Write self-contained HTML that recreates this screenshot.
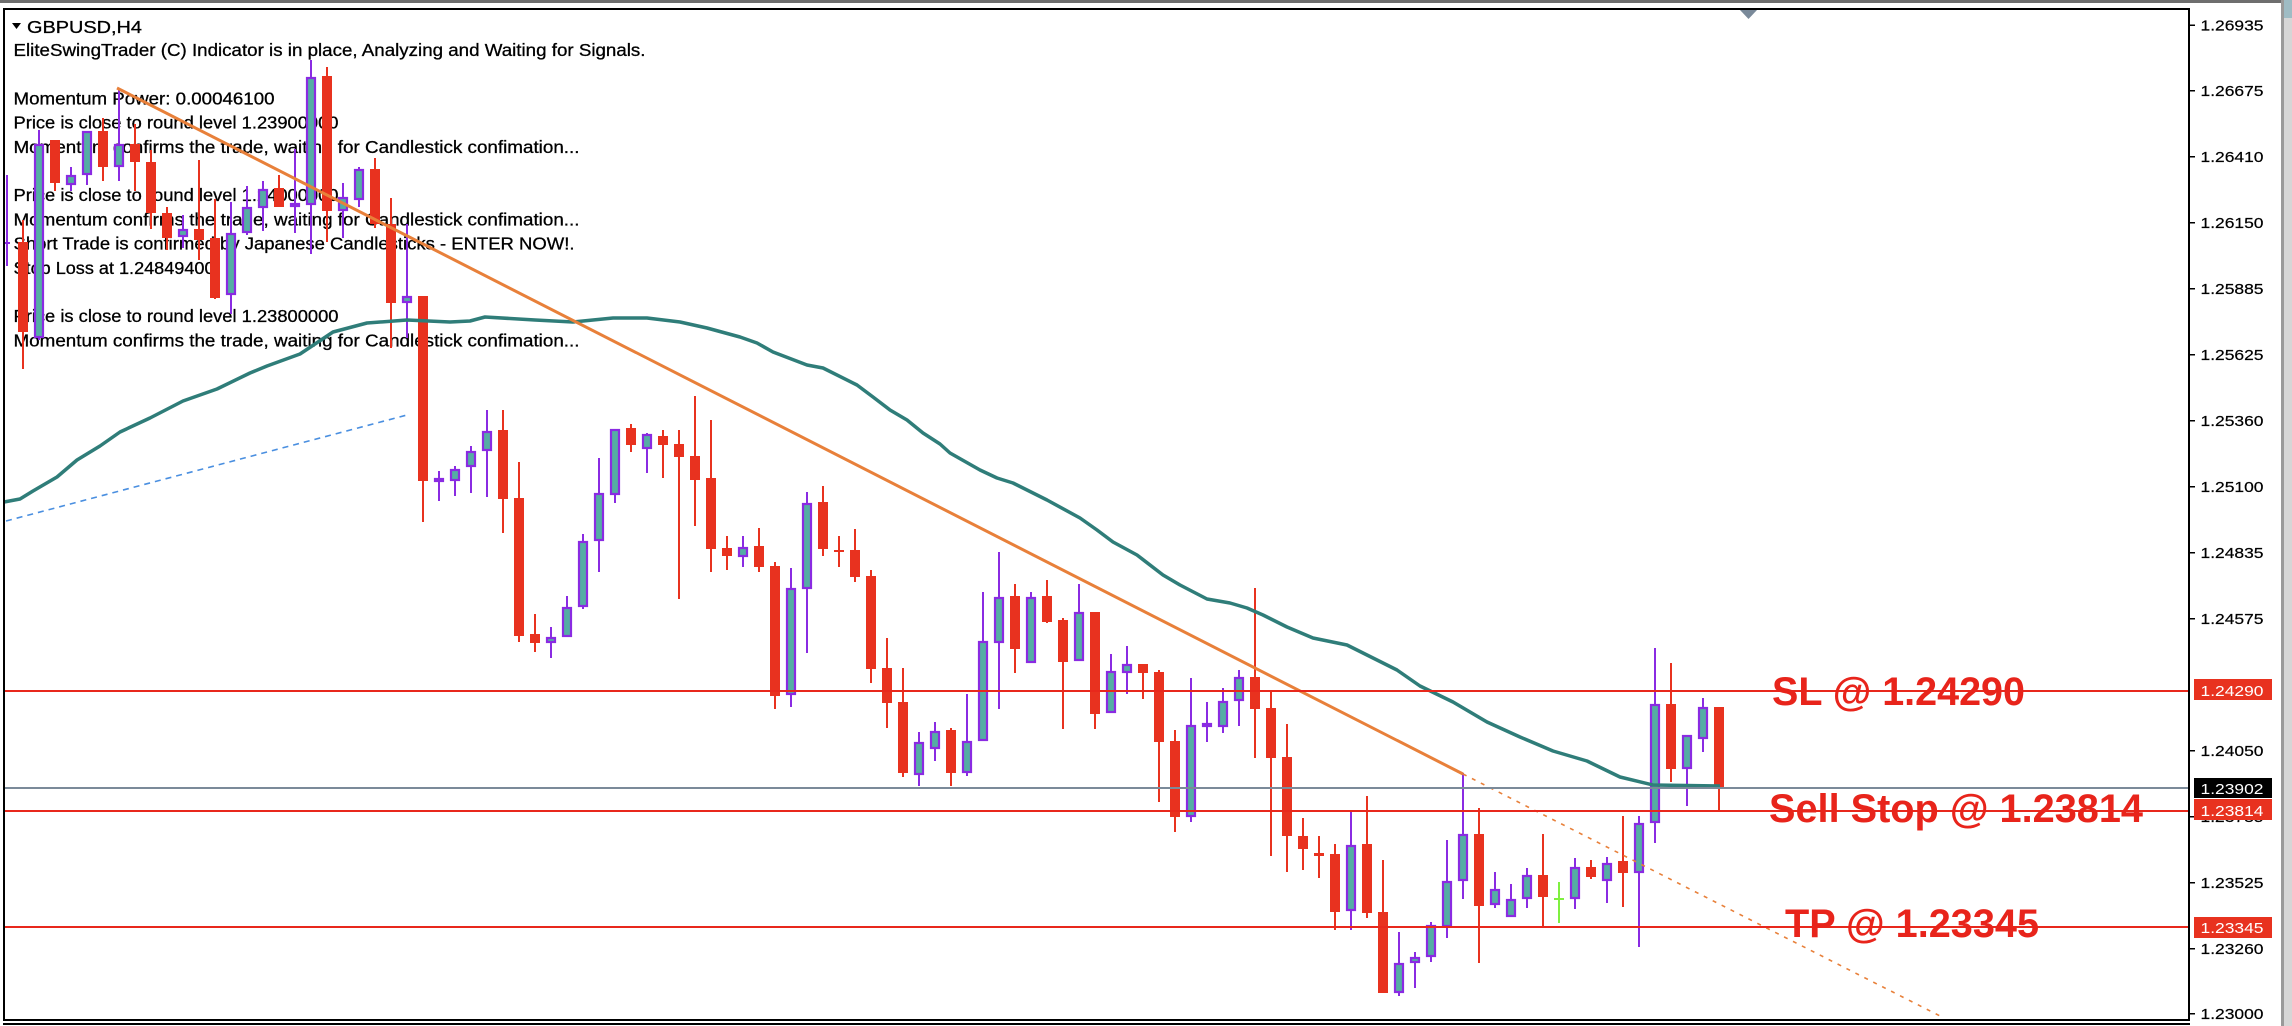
<!DOCTYPE html>
<html><head><meta charset="utf-8"><style>
html,body{margin:0;padding:0;background:#fff;}
svg{display:block;}
.hd{font-family:"Liberation Sans","DejaVu Sans",sans-serif;font-size:17.5px;fill:#000;stroke:#000;stroke-width:0.3px;}
.ax{font-family:"Liberation Sans","DejaVu Sans",sans-serif;font-size:15px;fill:#000;stroke:#000;stroke-width:0.2px;}
.axw{font-family:"Liberation Sans","DejaVu Sans",sans-serif;font-size:15px;fill:#fff;}
.big{font-family:"Liberation Sans",sans-serif;font-size:40px;font-weight:bold;fill:#e8241b;}
</style></head><body>
<svg width="2292" height="1026" viewBox="0 0 2292 1026" xmlns="http://www.w3.org/2000/svg">
<rect x="0" y="0" width="2292" height="1026" fill="#fff"/>
<rect x="0" y="0" width="2281" height="3" fill="#6e6e6e"/>
<rect x="2281" y="0" width="3" height="1026" fill="#9a9a9a"/>
<rect x="2284" y="0" width="8" height="1026" fill="#d6d6d6"/>
<rect x="2284" y="0" width="8" height="18" fill="#9fbcc4"/>

<!-- header text -->
<polygon points="12,23 21,23 16.5,29" fill="#000"/>
<text class="hd" x="27" y="33" textLength="115" lengthAdjust="spacingAndGlyphs">GBPUSD,H4</text>
<text class="hd" x="13.5" y="56" textLength="632" lengthAdjust="spacingAndGlyphs">EliteSwingTrader (C) Indicator is in place, Analyzing and Waiting for Signals.</text>
<text class="hd" x="13.5" y="104.4" textLength="261" lengthAdjust="spacingAndGlyphs">Momentum Power: 0.00046100</text>
<text class="hd" x="13.5" y="128.6" textLength="325" lengthAdjust="spacingAndGlyphs">Price is close to round level 1.23900000</text>
<text class="hd" x="13.5" y="152.8" textLength="566" lengthAdjust="spacingAndGlyphs">Momentum confirms the trade, waiting for Candlestick confimation...</text>
<text class="hd" x="13.5" y="201.2" textLength="325" lengthAdjust="spacingAndGlyphs">Price is close to round level 1.24000000</text>
<text class="hd" x="13.5" y="225.4" textLength="566" lengthAdjust="spacingAndGlyphs">Momentum confirms the trade, waiting for Candlestick confimation...</text>
<text class="hd" x="13.5" y="249.6" textLength="561" lengthAdjust="spacingAndGlyphs">Short Trade is confirmed by Japanese Candlesticks - ENTER NOW!.</text>
<text class="hd" x="13.5" y="273.8" textLength="201" lengthAdjust="spacingAndGlyphs">Stop Loss at 1.24849400</text>
<text class="hd" x="13.5" y="322.2" textLength="325" lengthAdjust="spacingAndGlyphs">Price is close to round level 1.23800000</text>
<text class="hd" x="13.5" y="346.4" textLength="566" lengthAdjust="spacingAndGlyphs">Momentum confirms the trade, waiting for Candlestick confimation...</text>

<!-- blue dashed -->
<line x1="6" y1="521" x2="407" y2="415" stroke="#4a8fe0" stroke-width="1.6" stroke-dasharray="6 5"/>

<!-- bear candles -->
<g fill="#e8321f">
<rect x="22" y="220" width="2" height="149"/><rect x="18" y="242" width="10" height="90"/>
<rect x="54" y="140" width="2" height="51"/><rect x="50" y="140" width="10" height="43"/>
<rect x="102" y="118" width="2" height="63"/><rect x="98" y="131" width="10" height="36"/>
<rect x="134" y="124" width="2" height="67"/><rect x="130" y="144" width="10" height="18"/>
<rect x="150" y="150" width="2" height="79"/><rect x="146" y="162" width="10" height="51"/>
<rect x="166" y="207" width="2" height="43"/><rect x="162" y="213" width="10" height="25"/>
<rect x="198" y="160" width="2" height="100"/><rect x="194" y="229" width="10" height="11"/>
<rect x="214" y="199" width="2" height="100"/><rect x="210" y="238" width="10" height="60"/>
<rect x="278" y="175" width="2" height="32"/><rect x="274" y="188" width="10" height="19"/>
<rect x="326" y="67" width="2" height="175"/><rect x="322" y="76" width="10" height="135"/>
<rect x="374" y="158" width="2" height="70"/><rect x="370" y="169" width="10" height="55"/>
<rect x="390" y="198" width="2" height="150"/><rect x="386" y="224" width="10" height="79"/>
<rect x="422" y="296" width="2" height="226"/><rect x="418" y="296" width="10" height="185"/>
<rect x="502" y="410" width="2" height="123"/><rect x="498" y="430" width="10" height="69"/>
<rect x="518" y="462" width="2" height="180"/><rect x="514" y="498" width="10" height="138"/>
<rect x="534" y="614" width="2" height="38"/><rect x="530" y="634" width="10" height="9"/>
<rect x="630" y="424" width="2" height="28"/><rect x="626" y="428" width="10" height="17"/>
<rect x="662" y="430" width="2" height="48"/><rect x="658" y="436" width="10" height="9"/>
<rect x="678" y="430" width="2" height="169"/><rect x="674" y="444" width="10" height="13"/>
<rect x="694" y="396" width="2" height="130"/><rect x="690" y="456" width="10" height="24"/>
<rect x="710" y="420" width="2" height="152"/><rect x="706" y="478" width="10" height="71"/>
<rect x="726" y="536" width="2" height="34"/><rect x="722" y="548" width="10" height="8"/>
<rect x="758" y="528" width="2" height="44"/><rect x="754" y="546" width="10" height="21"/>
<rect x="774" y="562" width="2" height="147"/><rect x="770" y="566" width="10" height="130"/>
<rect x="822" y="486" width="2" height="70"/><rect x="818" y="502" width="10" height="47"/>
<rect x="838" y="536" width="2" height="31"/><rect x="834" y="550" width="10" height="2"/>
<rect x="854" y="529" width="2" height="53"/><rect x="850" y="550" width="10" height="27"/>
<rect x="870" y="570" width="2" height="113"/><rect x="866" y="576" width="10" height="93"/>
<rect x="886" y="638" width="2" height="90"/><rect x="882" y="668" width="10" height="35"/>
<rect x="902" y="668" width="2" height="109"/><rect x="898" y="702" width="10" height="71"/>
<rect x="950" y="728" width="2" height="58"/><rect x="946" y="730" width="10" height="43"/>
<rect x="1014" y="584" width="2" height="89"/><rect x="1010" y="596" width="10" height="53"/>
<rect x="1046" y="580" width="2" height="43"/><rect x="1042" y="596" width="10" height="26"/>
<rect x="1062" y="618" width="2" height="111"/><rect x="1058" y="620" width="10" height="42"/>
<rect x="1094" y="612" width="2" height="117"/><rect x="1090" y="612" width="10" height="102"/>
<rect x="1142" y="664" width="2" height="35"/><rect x="1138" y="664" width="10" height="9"/>
<rect x="1158" y="670" width="2" height="132"/><rect x="1154" y="672" width="10" height="70"/>
<rect x="1174" y="730" width="2" height="102"/><rect x="1170" y="741" width="10" height="76"/>
<rect x="1254" y="588" width="2" height="170"/><rect x="1250" y="677" width="10" height="32"/>
<rect x="1270" y="692" width="2" height="164"/><rect x="1266" y="708" width="10" height="50"/>
<rect x="1286" y="724" width="2" height="148"/><rect x="1282" y="757" width="10" height="79"/>
<rect x="1302" y="818" width="2" height="52"/><rect x="1298" y="836" width="10" height="13"/>
<rect x="1318" y="836" width="2" height="42"/><rect x="1314" y="853" width="10" height="3"/>
<rect x="1334" y="844" width="2" height="86"/><rect x="1330" y="854" width="10" height="58"/>
<rect x="1366" y="796" width="2" height="122"/><rect x="1362" y="844" width="10" height="69"/>
<rect x="1382" y="860" width="2" height="133"/><rect x="1378" y="912" width="10" height="81"/>
<rect x="1478" y="808" width="2" height="155"/><rect x="1474" y="834" width="10" height="72"/>
<rect x="1542" y="834" width="2" height="94"/><rect x="1538" y="875" width="10" height="22"/>
<rect x="1590" y="860" width="2" height="19"/><rect x="1586" y="867" width="10" height="10"/>
<rect x="1622" y="816" width="2" height="91"/><rect x="1618" y="861" width="10" height="12"/>
<rect x="1670" y="663" width="2" height="119"/><rect x="1666" y="704" width="10" height="65"/>
<rect x="1718" y="707" width="2" height="103"/><rect x="1714" y="707" width="10" height="81"/>
</g>

<!-- bull wicks -->
<g fill="#8a2be2">
<rect x="6" y="175" width="2" height="91"/><rect x="5" y="242" width="5" height="2"/>
<rect x="38" y="130" width="2" height="210"/>
<rect x="70" y="167" width="2" height="24"/>
<rect x="86" y="131" width="2" height="54"/>
<rect x="118" y="88" width="2" height="93"/>
<rect x="182" y="215" width="2" height="33"/>
<rect x="230" y="202" width="2" height="112"/>
<rect x="246" y="186" width="2" height="49"/>
<rect x="262" y="181" width="2" height="50"/>
<rect x="294" y="149" width="2" height="84"/>
<rect x="310" y="60" width="2" height="194"/>
<rect x="342" y="183" width="2" height="55"/>
<rect x="358" y="167" width="2" height="40"/>
<rect x="406" y="224" width="2" height="114"/>
<rect x="438" y="471" width="2" height="30"/>
<rect x="454" y="466" width="2" height="30"/>
<rect x="470" y="446" width="2" height="47"/>
<rect x="486" y="410" width="2" height="87"/>
<rect x="550" y="627" width="2" height="31"/>
<rect x="566" y="596" width="2" height="41"/>
<rect x="582" y="534" width="2" height="75"/>
<rect x="598" y="458" width="2" height="114"/>
<rect x="614" y="429" width="2" height="74"/>
<rect x="646" y="433" width="2" height="40"/>
<rect x="742" y="536" width="2" height="31"/>
<rect x="790" y="568" width="2" height="139"/>
<rect x="806" y="492" width="2" height="161"/>
<rect x="918" y="732" width="2" height="54"/>
<rect x="934" y="722" width="2" height="39"/>
<rect x="966" y="694" width="2" height="82"/>
<rect x="982" y="592" width="2" height="149"/>
<rect x="998" y="552" width="2" height="157"/>
<rect x="1030" y="592" width="2" height="71"/>
<rect x="1078" y="584" width="2" height="77"/>
<rect x="1110" y="654" width="2" height="59"/>
<rect x="1126" y="646" width="2" height="48"/>
<rect x="1190" y="678" width="2" height="144"/>
<rect x="1206" y="702" width="2" height="40"/>
<rect x="1222" y="688" width="2" height="45"/>
<rect x="1238" y="670" width="2" height="56"/>
<rect x="1350" y="812" width="2" height="118"/>
<rect x="1398" y="932" width="2" height="64"/>
<rect x="1414" y="952" width="2" height="36"/>
<rect x="1430" y="922" width="2" height="40"/>
<rect x="1446" y="840" width="2" height="98"/>
<rect x="1462" y="773" width="2" height="126"/>
<rect x="1494" y="872" width="2" height="36"/>
<rect x="1510" y="884" width="2" height="33"/>
<rect x="1526" y="868" width="2" height="40"/>
<rect x="1574" y="858" width="2" height="51"/>
<rect x="1606" y="857" width="2" height="46"/>
<rect x="1638" y="816" width="2" height="131"/>
<rect x="1654" y="648" width="2" height="195"/>
<rect x="1686" y="735" width="2" height="71"/>
<rect x="1702" y="698" width="2" height="54"/>
</g>
<!-- bull bodies -->
<g fill="#55ada4" stroke="#8a2be2" stroke-width="2.2">
<rect x="35" y="145" width="8" height="192"/>
<rect x="67" y="176" width="8" height="8"/>
<rect x="83" y="132" width="8" height="42"/>
<rect x="115" y="145" width="8" height="21"/>
<rect x="179" y="230" width="8" height="6"/>
<rect x="227" y="234" width="8" height="60"/>
<rect x="243" y="208" width="8" height="24"/>
<rect x="259" y="190" width="8" height="17"/>
<rect x="291" y="204" width="8" height="2"/>
<rect x="307" y="78" width="8" height="126"/>
<rect x="339" y="198" width="8" height="12"/>
<rect x="355" y="170" width="8" height="29"/>
<rect x="403" y="297" width="8" height="5"/>
<rect x="435" y="479" width="8" height="2"/>
<rect x="451" y="470" width="8" height="10"/>
<rect x="467" y="452" width="8" height="14"/>
<rect x="483" y="432" width="8" height="18"/>
<rect x="547" y="638" width="8" height="4"/>
<rect x="563" y="608" width="8" height="28"/>
<rect x="579" y="542" width="8" height="64"/>
<rect x="595" y="494" width="8" height="46"/>
<rect x="611" y="430" width="8" height="64"/>
<rect x="643" y="435" width="8" height="13"/>
<rect x="739" y="548" width="8" height="8"/>
<rect x="787" y="589" width="8" height="105"/>
<rect x="803" y="504" width="8" height="84"/>
<rect x="915" y="743" width="8" height="31"/>
<rect x="931" y="732" width="8" height="16"/>
<rect x="963" y="742" width="8" height="30"/>
<rect x="979" y="642" width="8" height="98"/>
<rect x="995" y="598" width="8" height="44"/>
<rect x="1027" y="598" width="8" height="64"/>
<rect x="1075" y="613" width="8" height="47"/>
<rect x="1107" y="672" width="8" height="40"/>
<rect x="1123" y="665" width="8" height="7"/>
<rect x="1187" y="726" width="8" height="90"/>
<rect x="1203" y="724" width="8" height="2"/>
<rect x="1219" y="702" width="8" height="24"/>
<rect x="1235" y="678" width="8" height="22"/>
<rect x="1347" y="846" width="8" height="64"/>
<rect x="1395" y="964" width="8" height="28"/>
<rect x="1411" y="958" width="8" height="4"/>
<rect x="1427" y="926" width="8" height="30"/>
<rect x="1443" y="882" width="8" height="44"/>
<rect x="1459" y="835" width="8" height="45"/>
<rect x="1491" y="890" width="8" height="14"/>
<rect x="1507" y="900" width="8" height="16"/>
<rect x="1523" y="876" width="8" height="22"/>
<rect x="1571" y="868" width="8" height="30"/>
<rect x="1603" y="864" width="8" height="16"/>
<rect x="1635" y="824" width="8" height="48"/>
<rect x="1651" y="705" width="8" height="117"/>
<rect x="1683" y="736" width="8" height="32"/>
<rect x="1699" y="708" width="8" height="30"/>
</g>
<!-- lime doji -->
<rect x="1558" y="882" width="2" height="41" fill="#7ff040"/>
<rect x="1554" y="898" width="10" height="2" fill="#7ff040"/>

<!-- moving average -->
<polyline fill="none" stroke="#2f7d79" stroke-width="3.5" stroke-linejoin="round" points="4,502 20,499 33,491 57,477 77,460 100,446 120,432 150,418 183,401 217,389 250,373 267,366 300,354 333,332 367,323 407,320 450,322 470,321 485,317 535,320 573,322 613,318 647,318 680,322 707,328 740,337 757,343 773,352 807,365 823,368 857,385 873,397 890,410 907,420 923,433 940,444 950,453 980,470 997,478 1013,483 1047,500 1080,518 1097,530 1113,542 1137,555 1163,575 1180,585 1207,599 1230,603 1247,608 1263,615 1287,627 1313,638 1347,645 1363,653 1397,670 1420,686 1453,702 1487,722 1520,737 1553,751 1587,761 1620,777 1653,785 1720,786"/>

<!-- orange trend line -->
<line x1="117" y1="88" x2="1463" y2="774" stroke="#e8803a" stroke-width="3"/>
<line x1="1463" y1="774" x2="1944" y2="1018" stroke="#e8803a" stroke-width="1.6" stroke-dasharray="4 6"/>

<!-- horizontal levels -->
<rect x="5" y="690" width="2184" height="2" fill="#e8281c"/>
<rect x="5" y="787" width="2184" height="2" fill="#7b8a99"/>
<rect x="5" y="810" width="2184" height="2" fill="#e8281c"/>
<rect x="5" y="926" width="2184" height="2" fill="#e8281c"/>

<text class="big" x="1772" y="705" textLength="253" lengthAdjust="spacingAndGlyphs">SL @ 1.24290</text>
<text class="big" x="1769" y="822" textLength="374" lengthAdjust="spacingAndGlyphs">Sell Stop @ 1.23814</text>
<text class="big" x="1785" y="937" textLength="254" lengthAdjust="spacingAndGlyphs">TP @ 1.23345</text>

<!-- chart frame -->
<rect x="3" y="8" width="2187" height="2" fill="#000"/>
<rect x="3" y="8" width="2" height="1013" fill="#000"/>
<rect x="2188" y="8" width="2" height="1013" fill="#000"/>
<rect x="3" y="1019" width="2187" height="2" fill="#000"/>
<rect x="3" y="1023" width="2187" height="2" fill="#000"/>
<polygon points="1740,10 1757,10 1748.5,19" fill="#7a8a9a"/>

<!-- axis ticks and labels -->
<g fill="#000">
<rect x="2190" y="24.5" width="5" height="1.5"/>
<rect x="2190" y="90" width="5" height="1.5"/>
<rect x="2190" y="156" width="5" height="1.5"/>
<rect x="2190" y="222" width="5" height="1.5"/>
<rect x="2190" y="288" width="5" height="1.5"/>
<rect x="2190" y="354" width="5" height="1.5"/>
<rect x="2190" y="420" width="5" height="1.5"/>
<rect x="2190" y="486" width="5" height="1.5"/>
<rect x="2190" y="552" width="5" height="1.5"/>
<rect x="2190" y="618" width="5" height="1.5"/>
<rect x="2190" y="750" width="5" height="1.5"/>
<rect x="2190" y="816" width="5" height="1.5"/>
<rect x="2190" y="882" width="5" height="1.5"/>
<rect x="2190" y="948" width="5" height="1.5"/>
<rect x="2190" y="1013" width="5" height="1.5"/>
</g>
<text class="ax" x="2200.5" y="30.5" textLength="63" lengthAdjust="spacingAndGlyphs">1.26935</text>
<text class="ax" x="2200.5" y="96" textLength="63" lengthAdjust="spacingAndGlyphs">1.26675</text>
<text class="ax" x="2200.5" y="162" textLength="63" lengthAdjust="spacingAndGlyphs">1.26410</text>
<text class="ax" x="2200.5" y="228" textLength="63" lengthAdjust="spacingAndGlyphs">1.26150</text>
<text class="ax" x="2200.5" y="294" textLength="63" lengthAdjust="spacingAndGlyphs">1.25885</text>
<text class="ax" x="2200.5" y="360" textLength="63" lengthAdjust="spacingAndGlyphs">1.25625</text>
<text class="ax" x="2200.5" y="426" textLength="63" lengthAdjust="spacingAndGlyphs">1.25360</text>
<text class="ax" x="2200.5" y="492" textLength="63" lengthAdjust="spacingAndGlyphs">1.25100</text>
<text class="ax" x="2200.5" y="558" textLength="63" lengthAdjust="spacingAndGlyphs">1.24835</text>
<text class="ax" x="2200.5" y="624" textLength="63" lengthAdjust="spacingAndGlyphs">1.24575</text>
<text class="ax" x="2200.5" y="756" textLength="63" lengthAdjust="spacingAndGlyphs">1.24050</text>
<text class="ax" x="2200.5" y="822" textLength="63" lengthAdjust="spacingAndGlyphs">1.23785</text>
<text class="ax" x="2200.5" y="888" textLength="63" lengthAdjust="spacingAndGlyphs">1.23525</text>
<text class="ax" x="2200.5" y="954" textLength="63" lengthAdjust="spacingAndGlyphs">1.23260</text>
<text class="ax" x="2200.5" y="1019" textLength="63" lengthAdjust="spacingAndGlyphs">1.23000</text>

<!-- price boxes -->
<rect x="2194" y="679" width="78" height="21" fill="#e8321f"/>
<text class="axw" x="2200.5" y="696" textLength="63" lengthAdjust="spacingAndGlyphs">1.24290</text>
<rect x="2194" y="778" width="78" height="20" fill="#000"/>
<text class="axw" x="2200.5" y="794" textLength="63" lengthAdjust="spacingAndGlyphs">1.23902</text>
<rect x="2194" y="799" width="78" height="21" fill="#e8321f"/>
<text class="axw" x="2200.5" y="816" textLength="63" lengthAdjust="spacingAndGlyphs">1.23814</text>
<rect x="2194" y="917" width="78" height="21" fill="#e8321f"/>
<text class="axw" x="2200.5" y="933" textLength="63" lengthAdjust="spacingAndGlyphs">1.23345</text>
</svg>
</body></html>
